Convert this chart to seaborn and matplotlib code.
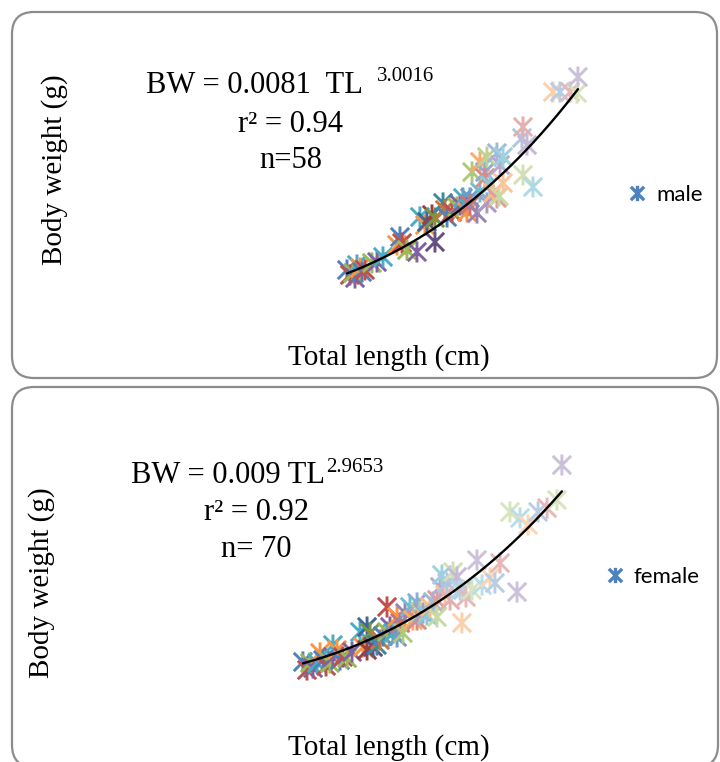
import matplotlib
matplotlib.use("Agg")
import matplotlib.pyplot as plt
from matplotlib.patches import FancyBboxPatch
from matplotlib.path import Path
from matplotlib.lines import Line2D
from matplotlib.colors import to_rgb
import numpy as np
import pandas as pd
import seaborn as sns

# ---- data: total length (cm) / body weight (g) ----
male_tl = [15.54, 15.71, 15.89, 16.00, 16.11, 16.29, 16.40, 16.57, 16.97, 17.26,
           17.60, 18.40, 18.57, 18.69, 18.97, 19.54, 19.71, 20.00, 20.11, 20.40,
           20.57, 20.57, 21.03, 21.14, 21.26, 21.54, 21.83, 22.00, 22.17, 22.40,
           22.57, 22.57, 22.69, 22.97, 23.14, 23.14, 23.43, 23.43, 23.54, 23.54,
           23.71, 23.89, 24.11, 24.11, 24.23, 24.29, 24.46, 24.46, 25.54, 25.60,
           25.60, 25.83, 26.17, 27.31, 27.71, 28.29, 28.69, 28.74]
male_bw = [33.6, 29.2, 30.9, 26.5, 38.0, 35.3, 31.8, 33.6, 39.8, 40.6,
           45.1, 55.7, 62.7, 57.4, 51.2, 49.5, 80.4, 73.3, 76.0, 82.2,
           79.5, 58.3, 92.8, 86.6, 80.4, 84.8, 89.2, 91.0, 97.2, 84.8,
           97.2, 91.0, 120.1, 83.9, 102.5, 129.0, 120.1, 114.8, 133.4, 92.8,
           108.7, 101.6, 136.9, 97.2, 98.9, 126.3, 133.4, 110.4, 150.2, 159.9,
           117.5, 144.0, 106.9, 190.8, 190.8, 190.8, 189.9, 204.1]

female_tl = [13.75, 13.98, 14.15, 14.32, 14.55, 14.72, 14.89, 15.06, 15.28, 15.45,
             15.45, 15.68, 15.85, 16.02, 16.25, 16.53, 16.98, 17.15, 17.38, 17.38,
             17.55, 17.72, 17.94, 18.11, 18.28, 18.51, 18.51, 18.68, 18.85, 19.08,
             19.08, 19.25, 19.41, 19.53, 19.81, 19.98, 20.21, 20.21, 20.38, 20.55,
             20.77, 20.94, 21.11, 21.34, 21.34, 21.51, 21.62, 21.79, 21.91, 22.08,
             22.25, 22.47, 22.64, 22.75, 22.81, 22.98, 23.32, 23.60, 23.89, 24.34,
             24.62, 24.91, 25.47, 25.87, 26.04, 26.49, 27.06, 27.57, 28.13, 28.41]
female_bw = [22.7, 15.1, 21.7, 17.0, 21.7, 31.2, 24.5, 18.9, 21.7, 27.4,
             38.7, 34.0, 24.5, 27.4, 26.4, 32.1, 51.0, 36.8, 55.7, 34.0,
             50.0, 36.8, 38.7, 43.4, 47.2, 74.6, 51.0, 55.7, 50.0, 65.1,
             46.3, 59.5, 50.0, 68.9, 74.6, 62.3, 78.4, 62.3, 69.9, 68.9,
             67.0, 74.6, 79.3, 81.2, 65.1, 93.5, 104.8, 85.9, 97.2, 81.2,
             107.6, 102.9, 90.6, 59.5, 90.6, 84.0, 90.6, 118.9, 95.3, 102.0,
             97.2, 116.1, 164.3, 88.7, 158.6, 152.0, 164.3, 168.0, 175.6, 208.6]

# fitted length-weight relation BW = a * TL^b
male_a, male_b, male_r2 = 0.0081, 3.0016, 0.94
female_a, female_b, female_r2 = 0.009, 2.9653, 0.92

# ---- style ----
W, H = 720, 762
serif = "Liberation Serif"
base = ["#4F81BD", "#C0504D", "#9BBB59", "#8064A2", "#4BACC6", "#F79646"]
shades = [0, 0, 0, -0.2, 0, 0.2, 0.35, 0.45, 0.55, 0.6, 0.6, 0.6]


def excel_colors(n):
    out = []
    for i in range(n):
        c = np.array(to_rgb(base[i % 6]))
        f = shades[min(i // 6, len(shades) - 1)]
        c = c * (1 + f) if f < 0 else c + (1 - c) * f
        out.append(tuple(c))
    return out


star = Path([(-1, -1), (1, 1), (-1, 1), (1, -1), (0, -1.15), (0, 1.15)],
            [Path.MOVETO, Path.LINETO, Path.MOVETO, Path.LINETO, Path.MOVETO, Path.LINETO])


def fx(x):
    return x / W


def fy(y):
    return 1 - y / H


sns.set_theme(style="white")
plt.rcParams["font.family"] = [serif, "DejaVu Serif"]
plt.rcParams["text.color"] = "black"

fig = plt.figure(figsize=(W / 100, H / 100), dpi=100)
fig.patch.set_facecolor("white")

# rounded chart frames (in inches so the corners stay round)
for x0, y0, w, h in [(0.12, 3.84, 7.05, 3.66), (0.12, -0.05, 7.06, 3.80)]:
    fig.patches.append(FancyBboxPatch((x0, y0), w, h, boxstyle="round,pad=0,rounding_size=0.22",
                                      transform=fig.dpi_scale_trans, fill=False,
                                      edgecolor="#8c8c8c", linewidth=1.6))

panels = [
    dict(tl=male_tl, bw=male_bw, a=male_a, b=male_b, rect=[fx(75), fy(308), fx(525), 283 / H],
         ylim=250, label="male", leg=(626, 195)),
    dict(tl=female_tl, bw=female_bw, a=female_a, b=female_b, rect=[fx(60), fy(686), fx(530), 286 / H],
         ylim=270, label="female", leg=(604, 577)),
]

for p in panels:
    ax = fig.add_axes(p["rect"])
    df = pd.DataFrame({"tl": p["tl"], "bw": p["bw"]})
    df["pt"] = [str(i) for i in range(len(df))]
    cols = excel_colors(len(df))
    sns.scatterplot(data=df, x="tl", y="bw", hue="pt", palette=cols, marker=star,
                    s=230, linewidth=2.1, legend=False, ax=ax, zorder=2)
    pts = ax.collections[-1]
    pts.set_edgecolors(pts.get_facecolors())
    pts.set_facecolors("none")

    grid = np.linspace(min(p["tl"]), max(p["tl"]), 200)
    sns.lineplot(x=grid, y=p["a"] * grid ** p["b"], color="black", linewidth=1.7, ax=ax, zorder=3)

    ax.set_xlim(0, 30)
    ax.set_ylim(0, p["ylim"])
    ax.set_axis_off()

    handle = Line2D([], [], marker=star, color=base[0], ls="none", markersize=11, markeredgewidth=2.4)
    lx, ly = p["leg"]
    leg = ax.legend([handle], [p["label"]], loc="center left", bbox_to_anchor=(fx(lx), fy(ly)),
                    bbox_transform=fig.transFigure, frameon=False, borderpad=0, borderaxespad=0,
                    handlelength=1.0, handletextpad=0.35,
                    prop={"family": ["Lato", "DejaVu Sans"], "size": 16})
    for t in leg.get_texts():
        t.set_color("black")

# equations
fig.text(fx(363), fy(93), "BW = 0.0081  TL", ha="right", va="baseline", fontsize=22)
fig.text(fx(377), fy(81), "3.0016", ha="left", va="baseline", fontsize=15)
fig.text(fx(291), fy(132), f"r\u00b2 = {male_r2}", ha="center", va="baseline", fontsize=22)
fig.text(fx(291), fy(168), f"n={len(male_tl)}", ha="center", va="baseline", fontsize=22)

fig.text(fx(325), fy(483), "BW = 0.009 TL", ha="right", va="baseline", fontsize=22)
fig.text(fx(326), fy(472), "2.9653", ha="left", va="baseline", fontsize=15)
fig.text(fx(256), fy(520), f"r\u00b2 = {female_r2}", ha="center", va="baseline", fontsize=22)
fig.text(fx(256), fy(557), f"n= {len(female_tl)}", ha="center", va="baseline", fontsize=22)

# axis titles
fig.text(fx(389), fy(365), "Total length (cm)", ha="center", va="baseline", fontsize=21)
fig.text(fx(389), fy(755), "Total length (cm)", ha="center", va="baseline", fontsize=21)
fig.text(fx(55), fy(170), "Body weight (g)", rotation=90, ha="center", va="center", fontsize=21)
fig.text(fx(42), fy(583), "Body weight (g)", rotation=90, ha="center", va="center", fontsize=21)

fig.savefig("out.png", dpi=100, facecolor="white")
